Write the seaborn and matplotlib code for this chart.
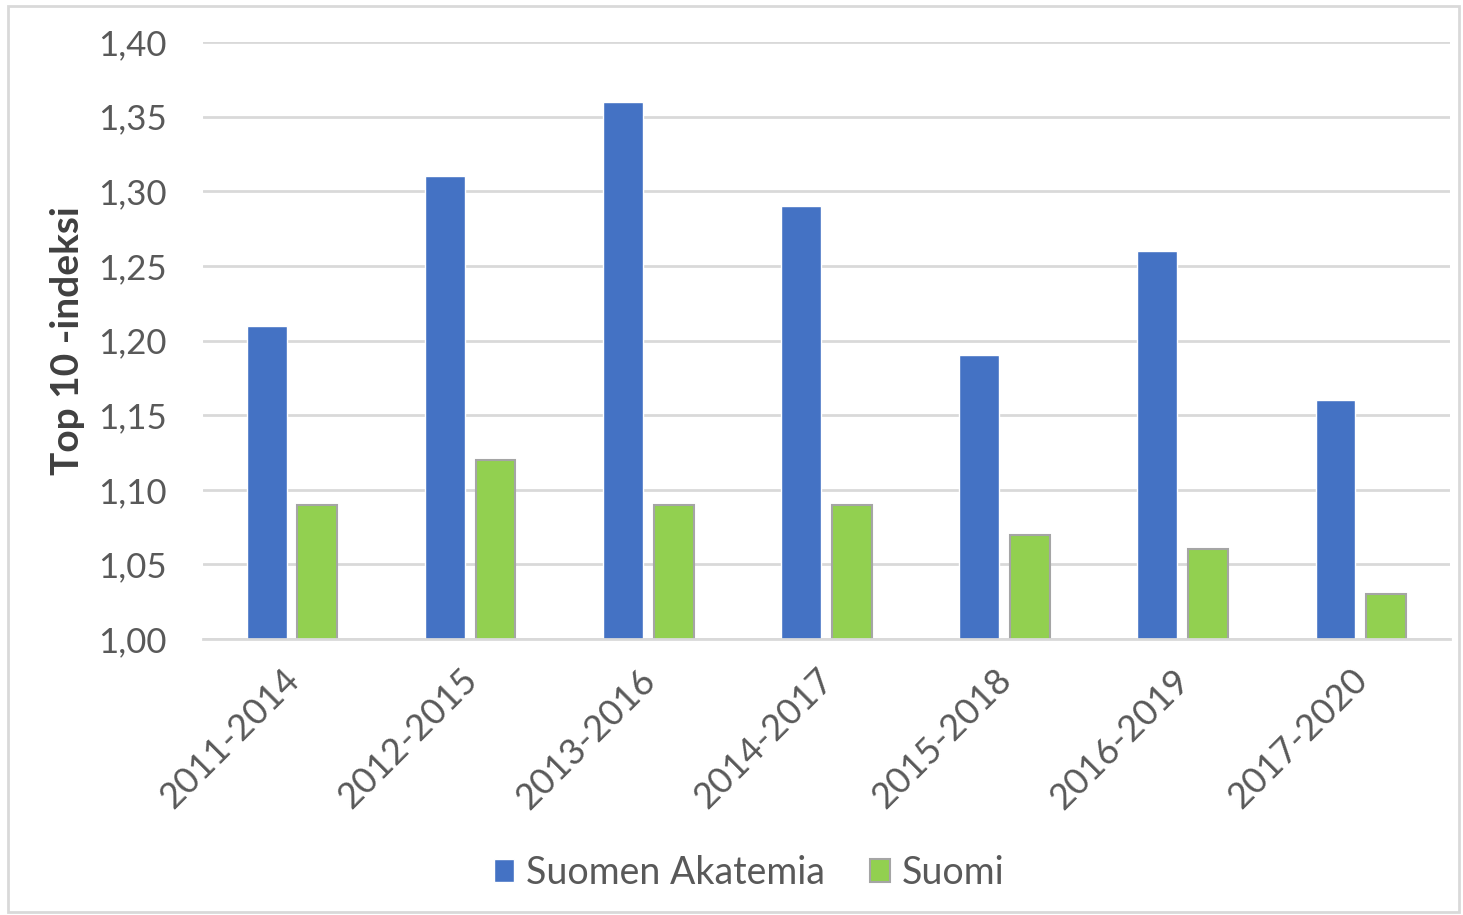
import matplotlib
matplotlib.use("Agg")
import matplotlib.pyplot as plt
import matplotlib.transforms as mtransforms
from matplotlib.patches import Rectangle
import seaborn as sns
import pandas as pd

periods = ["2011-2014", "2012-2015", "2013-2016", "2014-2017", "2015-2018", "2016-2019", "2017-2020"]
akatemia = [1.21, 1.31, 1.36, 1.29, 1.19, 1.26, 1.16]
suomi = [1.09, 1.12, 1.09, 1.09, 1.07, 1.06, 1.03]
series_names = ["Suomen Akatemia", "Suomi"]
y_ticks = [1.00, 1.05, 1.10, 1.15, 1.20, 1.25, 1.30, 1.35, 1.40]

df = pd.DataFrame({
    "period": periods * 2,
    "value": akatemia + suomi,
    "series": [series_names[0]] * len(periods) + [series_names[1]] * len(periods),
})

sns.set_theme(style="white")
plt.rcParams["font.family"] = ["Lato", "DejaVu Sans"]

fig = plt.figure(figsize=(14.63, 9.15), dpi=100)
ax = fig.add_axes([0.1388, 0.3016, 0.8522, 0.6524])

palette = {"Suomen Akatemia": "#4472C4", "Suomi": "#92D050"}
sns.barplot(data=df, x="period", y="value", hue="series", palette=palette,
            width=0.567, gap=0.21, ax=ax, saturation=1, legend=True)

for patch in ax.containers[1]:
    patch.set_edgecolor("#A5A5A5")
    patch.set_linewidth(1.5)

ax.set_ylim(1.0, 1.40)
ax.set_xlim(-0.5, len(periods) - 0.5)
ax.set_yticks(y_ticks)
ax.set_yticklabels([f"{t:.2f}".replace(".", ",") for t in y_ticks])
ax.yaxis.grid(True, color="#D9D9D9", linewidth=2)
ax.set_axisbelow(True)
for s in ["top", "right", "left"]:
    ax.spines[s].set_visible(False)
ax.spines["bottom"].set_color("#D9D9D9")
ax.spines["bottom"].set_linewidth(2)

ax.tick_params(axis="y", labelsize=25, labelcolor="#595959", length=0, pad=26)
ax.tick_params(axis="x", labelsize=26, labelcolor="#595959", length=0, pad=8)
offset = mtransforms.ScaledTranslation(-0.10, -0.13, fig.dpi_scale_trans)
for lbl in ax.get_xticklabels():
    lbl.set_rotation(45)
    lbl.set_ha("right")
    lbl.set_rotation_mode("anchor")
    lbl.set_transform(lbl.get_transform() + offset)

ax.set_xlabel("")
ax.set_ylabel("Top 10 -indeksi", fontsize=28, fontweight="bold", color="#404040")
ax.yaxis.set_label_coords(-0.0946, 0.5)

handles, labels = ax.get_legend_handles_labels()
ax.legend(handles, labels, loc="center", bbox_to_anchor=(0.512, 0.046),
          bbox_transform=fig.transFigure, ncol=2, frameon=False, fontsize=27,
          labelcolor="#595959", handlelength=0.55, handleheight=0.55,
          handletextpad=0.3, columnspacing=1.2)
leg = ax.get_legend()
leg.legend_handles[1].set_edgecolor("#A5A5A5")
leg.legend_handles[1].set_linewidth(1.5)

fig.patches.append(Rectangle((8 / 1463, 3 / 915), 1451 / 1463, 906 / 915,
                             transform=fig.transFigure, fill=False,
                             edgecolor="#D9D9D9", linewidth=2))

fig.savefig("out.png", dpi=100)
